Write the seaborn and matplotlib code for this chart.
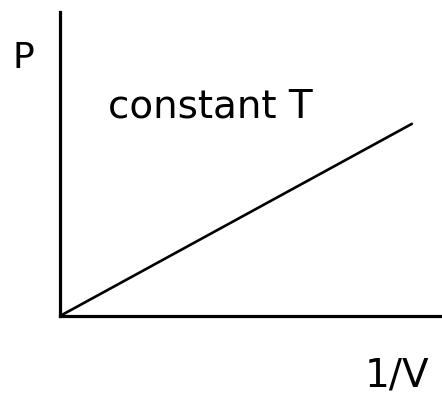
import numpy as np
import seaborn as sns
from matplotlib import pyplot as plt

# P vs 1/V at constant T (Boyle's law sketch)
inv_V = [0.0, 1.0]
P = [0.0, 0.632]

sns.set_style("white")
plt.rcParams['font.family'] = ['DejaVu Sans']
plt.rcParams['text.color'] = 'black'

fig = plt.figure(figsize=(4.42, 3.94), dpi=100)
ax = fig.add_axes([60 / 442, 78 / 394, 382 / 442, 304 / 394])

sns.lineplot(x=inv_V, y=P, ax=ax, color="black", linewidth=1.9)
ax.set_xlim(0, 1 / 0.921)
ax.set_ylim(0, 1)
ax.set_xticks([])
ax.set_yticks([])
sns.despine(ax=ax)
for side in ["left", "bottom"]:
    ax.spines[side].set_linewidth(2.3)
    ax.spines[side].set_color("black")

fig.text(23 / 442, 1 - 68 / 394, "P", ha="center", va="baseline", fontsize=26)
fig.text(108 / 442, 1 - 117 / 394, "constant T", ha="left", va="baseline", fontsize=28)
fig.text(429 / 442, 1 - 387 / 394, "1/V", ha="right", va="baseline", fontsize=28)

plt.savefig("out.png", dpi=100)
